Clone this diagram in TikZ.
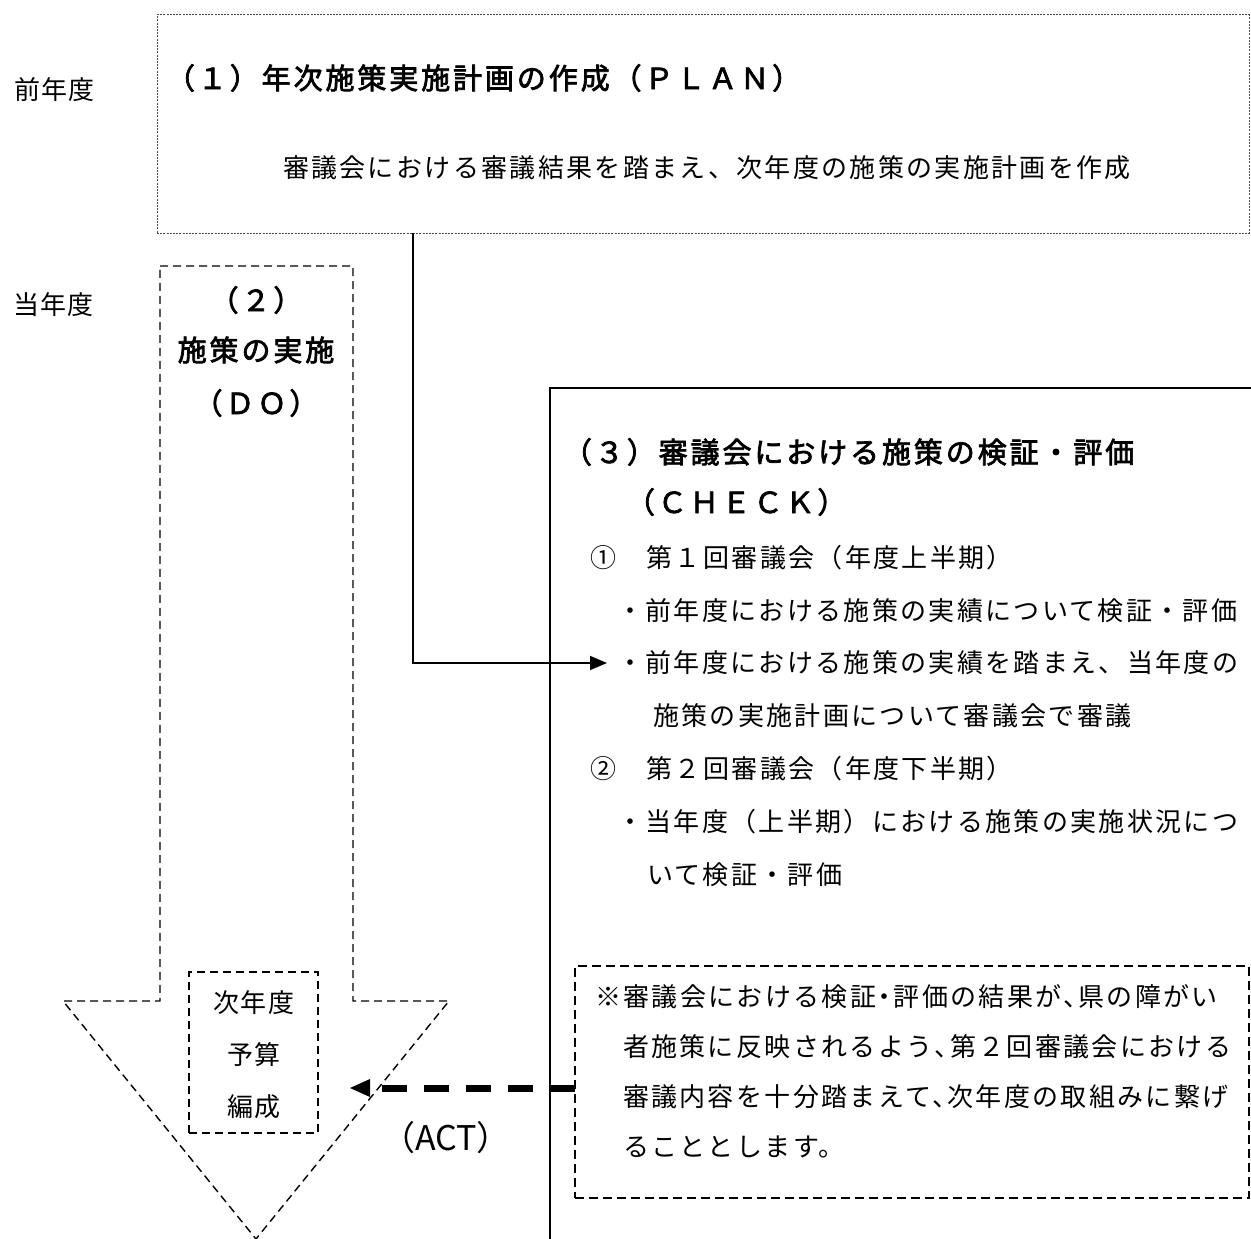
\documentclass[tikz,border=0pt]{standalone}
\usepackage{fontspec}
\setmainfont{Noto Sans CJK JP}
\newfontfamily\lblfont{Noto Sans CJK JP}[LetterSpace=5]
\newfontfamily\headfont{Noto Sans CJK JP}[LetterSpace=10,FakeBold=2.5]
\newfontfamily\bodyfont{Noto Sans CJK JP}[LetterSpace=9]
\newfontfamily\notefont{Noto Sans CJK JP}[LetterSpace=9,RawFeature=+halt]
\newfontfamily\actfont{Noto Sans CJK JP}
\usetikzlibrary{arrows.meta,calc}
\begin{document}
\begin{tikzpicture}[x=1pt,y=-1pt,
  txt/.style={inner sep=0pt,outer sep=0pt},
  lbl/.style={txt,font=\lblfont\fontsize{26}{30}\selectfont,text height=22.9pt,text depth=3.1pt},
  head/.style={txt,font=\headfont\fontsize{29}{34}\selectfont,text height=25.5pt,text depth=3.5pt},
  body/.style={txt,font=\bodyfont\fontsize{26}{30}\selectfont,text height=22.9pt,text depth=3.1pt,anchor=west},
  note/.style={txt,font=\notefont\fontsize{26}{30}\selectfont,text height=22.9pt,text depth=3.1pt,anchor=west},
  budget/.style={txt,font=\lblfont\fontsize{26}{30}\selectfont,text height=22.9pt,text depth=3.1pt},
  boxbase/.style={inner sep=0pt,outer sep=0pt,anchor=north west},
  dotbox/.style={boxbase,draw=black!70,line width=1pt,dash pattern=on 2pt off 1.2pt},
  dashbox/.style={boxbase,draw,line width=1.4pt,dash pattern=on 8pt off 5pt},
  notebox/.style={boxbase,draw,line width=2pt,dash pattern=on 9pt off 5pt},
  solidbox/.style={boxbase,draw,line width=2.5pt},
  bigarrow/.style={draw,line width=1.4pt,dash pattern=on 8pt off 5pt},
  conn/.style={draw,line width=1.6pt,-{Triangle[length=17pt,width=14pt]}},
  actline/.style={draw,line width=7pt,dash pattern=on 25pt off 17pt,-{Triangle[length=20pt,width=18pt,line width=0pt]}}
]
\path[use as bounding box,clip] (0,0) rectangle (1251,1239);

% year labels
\node[lbl,anchor=west] (prevyear) at (14,90) {前年度};
\node[lbl,anchor=west] (curyear) at (13,305) {当年度};

% (1) PLAN box
\node[dotbox,minimum width=1092pt,minimum height=218pt] (plan) at (157,15) {};
\node[head,anchor=west] (planhead) at (166,78) {（１）年次施策実施計画の作成（ＰＬＡＮ）};
\node[body] (planbody) at (283,168) {審議会における審議結果を踏まえ、次年度の施策の実施計画を作成};

% (2) DO big arrow
\path[bigarrow] (160,266) -- (353,266) -- (353,1001) -- (449,1001) -- (256,1239) -- (63,1001) -- (160,1001) -- cycle;
\node[head] (dohead1) at (256,300) {（２）};
\node[head] (dohead2) at (256,350) {施策の実施};
\node[head] (dohead3) at (256,403) {（ＤＯ）};

% budget box
\node[dashbox,minimum width=129pt,minimum height=161pt] (budgetbox) at (189,972) {};
\node[budget] (bud1) at (254,1003) {次年度};
\node[budget] (bud2) at (254,1055) {予算};
\node[budget] (bud3) at (254,1107) {編成};

% (3) CHECK box
\node[solidbox,minimum width=800pt,minimum height=1000pt] (check) at (550,388) {};
\node[head,anchor=west] (chkhead1) at (563,452) {（３）審議会における施策の検証・評価};
\node[head,anchor=west] (chkhead2) at (626,502) {（ＣＨＥＣＫ）};
\node[body] (c1) at (590,558) {①　第１回審議会（年度上半期）};
\node[body] (c2) at (617,611) {・前年度における施策の実績について検証・評価};
\node[body] (c3) at (617,663) {・前年度における施策の実績を踏まえ、当年度の};
\node[body] (c4) at (653,716) {施策の実施計画について審議会で審議};
\node[body] (c5) at (590,769) {②　第２回審議会（年度下半期）};
\node[body] (c6) at (617,822) {・当年度（上半期）における施策の実施状況につ};
\node[body] (c7) at (647,875) {いて検証・評価};

% note box
\node[notebox,minimum width=674pt,minimum height=232pt] (notebox) at (575,966) {};
\node[note] (n1) at (595,997) {※審議会における検証・評価の結果が、県の障がい};
\node[note] (n2) at (623,1047) {者施策に反映されるよう、第２回審議会における};
\node[note] (n3) at (623,1097) {審議内容を十分踏まえて、次年度の取組みに繋げ};
\node[note] (n4) at (623,1147) {ることとします。};

% ACT
\coordinate (acttip) at (350,1088);
\path[actline] (acttip -| notebox.west) -- (acttip);
\node[txt,font=\actfont\fontsize{34}{38}\selectfont,anchor=west,text height=29.9pt,text depth=4.1pt] (act) at (381,1138) {（ACT）};

% PLAN -> CHECK connector
\path[conn] ($(plan.south west)+(256,0)$) |- ([xshift=-10pt]c3.west);
\end{tikzpicture}
\end{document}
